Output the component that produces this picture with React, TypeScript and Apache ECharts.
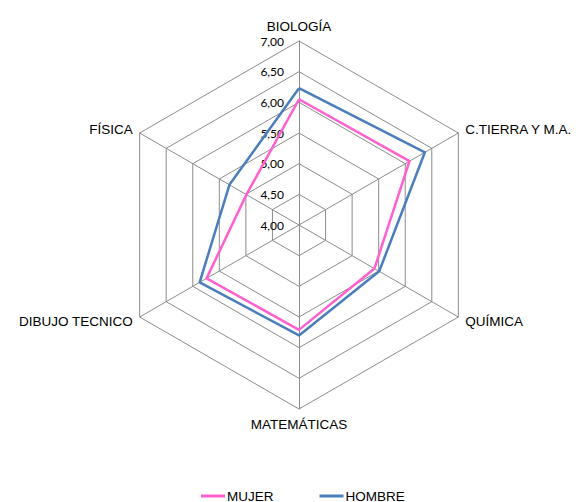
import React, { useEffect, useRef } from "react";
import * as echarts from "echarts";

// Indicators in ECharts order (counter-clockwise from top)
const indicators = ["BIOLOGÍA", "FÍSICA", "DIBUJO TECNICO", "MATEMÁTICAS", "QUÍMICA", "C.TIERRA Y M.A."];
const mujer = [6.05, 4.99, 5.74, 5.71, 5.42, 6.08];
const hombre = [6.23, 5.31, 5.87, 5.8, 5.51, 6.37];
const seriesNames = ["MUJER", "HOMBRE"];
const axisMin = 4;
const axisMax = 7;
const axisStep = 0.5;

export default function App() {
  const ref = useRef<HTMLDivElement>(null);
  useEffect(() => {
    if (!ref.current) return;
    const chart = echarts.init(ref.current, undefined, { renderer: "svg" });
    const labelFont = { fontFamily: "'Liberation Sans', Arial, sans-serif", fontSize: 13.5, color: "#000" };
    chart.setOption({
      animation: false,
      legend: {
        data: seriesNames,
        left: 196,
        top: 484,
        itemWidth: 24,
        itemHeight: 3,
        itemGap: 46,
        icon: "rect",
        textStyle: { ...labelFont, padding: [0, 0, 0, -3] },
      },
      radar: {
        center: [299, 225],
        radius: 184,
        startAngle: 90,
        shape: "polygon",
        splitNumber: (axisMax - axisMin) / axisStep,
        axisName: { ...labelFont },
        nameGap: 8,
        splitLine: { lineStyle: { color: "#8c8c8c", width: 1 } },
        splitArea: { show: false },
        axisLine: { lineStyle: { color: "#8c8c8c", width: 1 } },
        axisTick: { show: false },
        axisLabel: { show: false },
        indicator: indicators.map((name, i) => ({
          name,
          min: axisMin,
          max: axisMax,
          ...(i === 0
            ? {
                axisLabel: {
                  show: true,
                  margin: 15,
                  fontFamily: "Lato, sans-serif",
                  fontSize: 12,
                  color: "#000",
                  formatter: (v: number) => v.toFixed(2).replace(".", ","),
                },
              }
            : {}),
        })),
      },
      series: [
        {
          type: "radar",
          symbol: "none",
          data: [
            {
              name: seriesNames[0],
              value: mujer,
              lineStyle: { color: "#ff5fcf", width: 2.5 },
              itemStyle: { color: "#ff5fcf" },
            },
            {
              name: seriesNames[1],
              value: hombre,
              lineStyle: { color: "#4a7ebb", width: 2.5 },
              itemStyle: { color: "#4a7ebb" },
            },
          ],
        },
      ],
    });
    return () => chart.dispose();
  }, []);
  return (
    <div
      ref={ref}
      style={{ position: "absolute", left: 0, top: 0, width: 576, height: 502, background: "#fff" }}
    />
  );
}
